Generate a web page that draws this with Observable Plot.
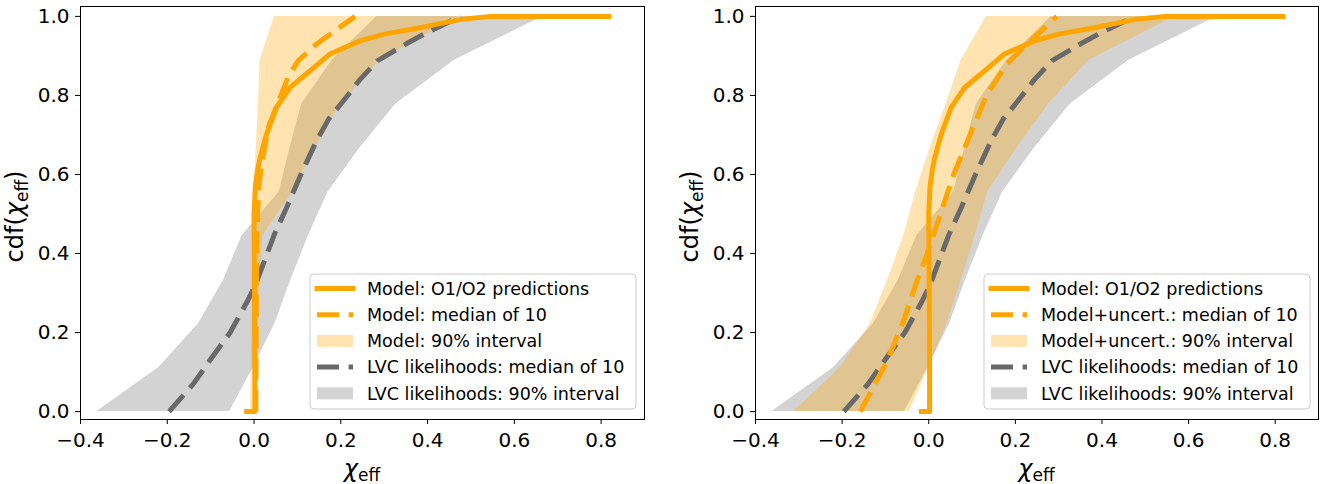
<!DOCTYPE html>
<html><head><meta charset="utf-8">
<script src="https://cdn.jsdelivr.net/npm/d3@7"></script>
<script src="https://cdn.jsdelivr.net/npm/@observablehq/plot@0.6"></script>
<style>
body{margin:0;background:#fff;font-family:"DejaVu Sans",sans-serif}
#wrap{display:flex;width:1333px;height:484px;overflow:hidden}
</style>
</head><body><div id="wrap"></div>
<script>
// ---- data ----
const cdfLevels = [0, 0.111, 0.222, 0.333, 0.444, 0.556, 0.667, 0.778, 0.889, 1.0];

const lvcBandLo = [-0.362, -0.220, -0.128, -0.070, -0.028, 0.058, 0.083, 0.110, 0.180, 0.283];
const lvcBandHi = [-0.056, -0.002, 0.048, 0.085, 0.125, 0.171, 0.244, 0.327, 0.462, 0.666];

const modelBandLo = [-0.008, -0.006, -0.005, -0.004, -0.003, 0.000, 0.005, 0.010, 0.014, 0.047];
const modelBandHi = [0.005, 0.008, 0.010, 0.013, 0.020, 0.090, 0.140, 0.200, 0.290, 0.472];

const uncertBandLo = [-0.311, -0.205, -0.135, -0.095, -0.058, -0.030, 0.003, 0.040, 0.075, 0.133];
const uncertBandHi = [-0.044, 0.000, 0.042, 0.075, 0.107, 0.136, 0.204, 0.277, 0.370, 0.569];

const predX = [-0.017, 0.002, 0.002, 0.001, 0.000, 0.003, 0.008, 0.014, 0.029, 0.052, 0.083, 0.129, 0.175, 0.244, 0.300, 0.385, 0.480, 0.545, 0.818];
const predY = [0, 0, 0.1, 0.3, 0.5, 0.57, 0.61, 0.643, 0.702, 0.77, 0.82, 0.862, 0.905, 0.938, 0.955, 0.972, 0.993, 1.0, 1.0];

const modelMedX = [0.004, 0.005, 0.006, 0.008, 0.012, 0.020, 0.033, 0.060, 0.080, 0.102, 0.144, 0.233];
const modelMedY = [0, 0.2, 0.4, 0.5, 0.58, 0.64, 0.72, 0.795, 0.85, 0.888, 0.93, 1.0];

const uncertMedX = [-0.158, -0.096, -0.058, -0.027, -0.004, 0.027, 0.058, 0.096, 0.135, 0.181, 0.227, 0.296];
const uncertMedY = [0, 0.128, 0.23, 0.331, 0.398, 0.5, 0.601, 0.702, 0.804, 0.88, 0.93, 1.0];

const lvcMedX = [-0.196, -0.140, -0.097, -0.055, -0.017, 0.003, 0.021, 0.046, 0.075, 0.108, 0.144, 0.172, 0.203, 0.244, 0.285, 0.350, 0.400, 0.476];
const lvcMedY = [0, 0.07, 0.137, 0.2, 0.276, 0.32, 0.373, 0.446, 0.516, 0.6, 0.685, 0.74, 0.782, 0.84, 0.888, 0.93, 0.96, 1.0];

const xTicks = [-0.4, -0.2, 0.0, 0.2, 0.4, 0.6, 0.8];
const yTicks = [0.0, 0.2, 0.4, 0.6, 0.8, 1.0];

const legendLeft = ["Model: O1/O2 predictions", "Model: median of 10", "Model: 90% interval", "LVC likelihoods: median of 10", "LVC likelihoods: 90% interval"];
const legendRight = ["Model: O1/O2 predictions", "Model+uncert.: median of 10", "Model+uncert.: 90% interval", "LVC likelihoods: median of 10", "LVC likelihoods: 90% interval"];

// ---- helpers ----
const band = (lo, hi) => cdfLevels.map((y, i) => ({y, lo: lo[i], hi: hi[i]}));
const pts = (xs, ys) => xs.map((x, i) => ({x, y: ys[i]}));

const ORANGE = "#ffa500", ORANGE_FILL = "#ffa500", GRAY_FILL = "#d3d3d3", GRAY_LINE = "#696969";
const DASH = "22,9.6";
const LW = 5;

function panel({width, marginLeft, marginRight, modelLo, modelHi, medX, medY, legend}) {
  const fmt = d3.format(".1f");
  const svg = Plot.plot({
    width, height: 484,
    marginLeft, marginRight, marginTop: 6, marginBottom: 65,
    style: {fontSize: "20px", fontFamily: "DejaVu Sans, sans-serif", color: "black", background: "white", overflow: "visible"},
    x: {domain: [-0.4, 0.9], ticks: xTicks, tickFormat: fmt, label: null, tickSize: 5, tickPadding: 8},
    y: {domain: [-0.02, 1.025], ticks: yTicks, tickFormat: fmt, label: null, tickSize: 5, tickPadding: 6},
    marks: [
      Plot.areaX(band(lvcBandLo, lvcBandHi), {y: "y", x1: "lo", x2: "hi", fill: GRAY_FILL}),
      Plot.areaX(band(modelLo, modelHi), {y: "y", x1: "lo", x2: "hi", fill: ORANGE_FILL, fillOpacity: 0.3}),
      Plot.line(pts(lvcMedX, lvcMedY), {x: "x", y: "y", stroke: GRAY_LINE, strokeWidth: LW, strokeDasharray: DASH, strokeLinecap: "butt"}),
      Plot.line(pts(predX, predY), {x: "x", y: "y", stroke: ORANGE, strokeWidth: LW, strokeLinecap: "square"}),
      Plot.line(pts(medX, medY), {x: "x", y: "y", stroke: ORANGE, strokeWidth: LW, strokeDasharray: DASH, strokeLinecap: "butt"}),
      Plot.frame({stroke: "black", strokeWidth: 1})
    ]
  });
  const s = d3.select(svg);
  const x0 = marginLeft, x1 = width - marginRight, y0 = 6, y1 = 484 - 65;
  // axis labels
  const yl = s.append("text")
    .attr("transform", `translate(${marginLeft - 57},${(y0 + y1) / 2 + 4}) rotate(-90)`)
    .attr("text-anchor", "middle").attr("font-size", 24).attr("fill", "black");
  yl.append("tspan").text("cdf(");
  yl.append("tspan").attr("font-style", "italic").text("χ");
  yl.append("tspan").attr("font-size", 17).attr("dy", 5).text("eff");
  yl.append("tspan").attr("dy", -5).text(")");
  const xl = s.append("text")
    .attr("x", (x0 + x1) / 2).attr("y", 477)
    .attr("text-anchor", "middle").attr("font-size", 24).attr("fill", "black");
  xl.append("tspan").attr("font-style", "italic").text("χ");
  xl.append("tspan").attr("font-size", 17).attr("dy", 4).text("eff");
  // legend
  const bw = 326, bh = 135;
  const bx = x1 - 8 - bw, by = y1 - 10 - bh;
  const g = s.append("g").attr("font-size", 17.5).attr("font-family", "DejaVu Sans, sans-serif").attr("text-anchor", "start");
  g.append("rect").attr("x", bx).attr("y", by).attr("width", bw).attr("height", bh)
    .attr("rx", 4).attr("fill", "white").attr("fill-opacity", 0.8).attr("stroke", "#cccccc").attr("stroke-width", 1);
  const rows = [0, 1, 2, 3, 4].map(i => by + 14.5 + i * 26.2);
  const hx = bx + 7, hw = 36;
  g.append("line").attr("x1", hx).attr("x2", hx + hw).attr("y1", rows[0]).attr("y2", rows[0])
    .attr("stroke", ORANGE).attr("stroke-width", LW).attr("stroke-linecap", "square");
  g.append("line").attr("x1", hx).attr("x2", hx + hw).attr("y1", rows[1]).attr("y2", rows[1])
    .attr("stroke", ORANGE).attr("stroke-width", LW).attr("stroke-dasharray", DASH);
  g.append("rect").attr("x", hx).attr("y", rows[2] - 6).attr("width", hw).attr("height", 12)
    .attr("fill", ORANGE_FILL).attr("fill-opacity", 0.3);
  g.append("line").attr("x1", hx).attr("x2", hx + hw).attr("y1", rows[3]).attr("y2", rows[3])
    .attr("stroke", GRAY_LINE).attr("stroke-width", LW).attr("stroke-dasharray", DASH);
  g.append("rect").attr("x", hx).attr("y", rows[4] - 6).attr("width", hw).attr("height", 12)
    .attr("fill", GRAY_FILL);
  legend.forEach((t, i) => {
    g.append("text").attr("x", hx + hw + 14).attr("y", rows[i] + 6.3).attr("fill", "black").attr("text-anchor", "start").text(t);
  });
  return svg;
}

const wrap = document.getElementById("wrap");
wrap.appendChild(panel({width: 666, marginLeft: 80, marginRight: 22, modelLo: modelBandLo, modelHi: modelBandHi, medX: modelMedX, medY: modelMedY, legend: legendLeft}));
wrap.appendChild(panel({width: 667, marginLeft: 89, marginRight: 15, modelLo: uncertBandLo, modelHi: uncertBandHi, medX: uncertMedX, medY: uncertMedY, legend: legendRight}));
</script>
</body></html>
